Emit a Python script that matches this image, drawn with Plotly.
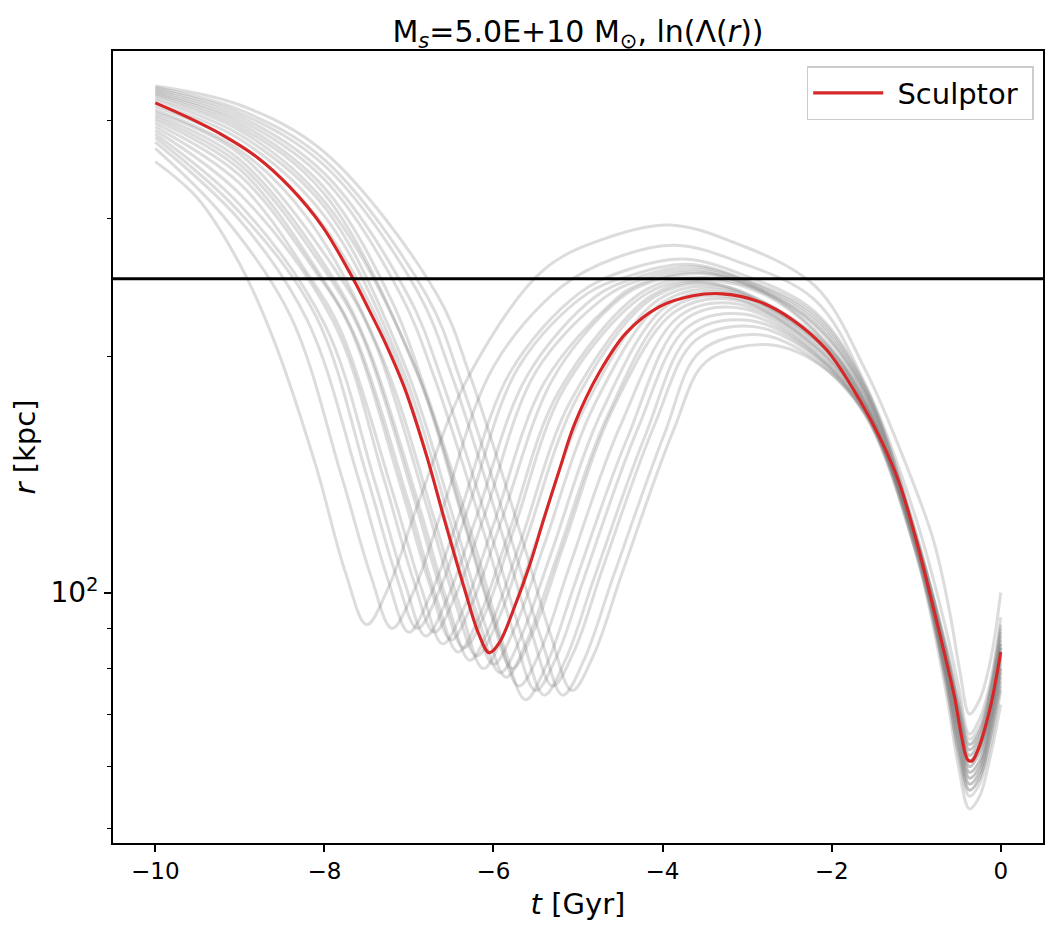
import plotly.graph_objects as go

# Sculptor orbit (red)
red_t = [-10.00, -9.60, -9.21, -8.80, -8.41, -8.02, -7.66, -7.47, -7.27, -7.05,
         -6.78, -6.58, -6.34, -6.17, -6.05, -5.93, -5.75, -5.57, -5.40, -5.22,
         -5.04, -4.75, -4.43, -4.04, -3.64, -3.29, -2.85, -2.46, -2.06, -1.67,
         -1.40, -1.20, -1.00, -0.80, -0.60, -0.54, -0.46, -0.39, -0.34, -0.27,
         -0.13, 0.00]
red_r = [420.6, 402.4, 383.0, 358.9, 328.7, 292.4, 251.0, 229.0, 207.0, 182.0,
         148.0, 123.8, 100.8, 88.3, 83.8, 86.3, 95.9, 108.5, 124.5, 143.3,
         164.0, 190.5, 214.2, 231.2, 238.8, 240.2, 234.6, 222.5, 203.8, 176.0,
         155.1, 137.9, 116.7, 95.9, 78.1, 73.0, 65.3, 61.2, 61.0, 63.0,
         70.9, 84.0]

gray_t = [
    [-10, -9.5, -9.0, -8.6, -8.1, -7.75, -7.5, -7.25, -6.9, -6.3, -5.4, -4.62, -3.92, -3.22, -2.2, -1.6, -1.2, -0.8, -0.6, -0.48, -0.37, -0.25, -0.12, 0],
    [-10, -9.2, -8.4, -7.8, -7.45, -7.2, -6.95, -6.6, -6.0, -5.2, -4.55, -3.85, -3.15, -2.2, -1.6, -1.0, -0.65, -0.5, -0.37, -0.25, -0.12, 0],
    [-10, -9.0, -8.2, -7.6, -7.25, -7.0, -6.75, -6.4, -5.8, -5.0, -4.45, -3.75, -3.05, -2.2, -1.6, -1.0, -0.65, -0.5, -0.37, -0.25, -0.12, 0],
    [-10, -9.0, -8.1, -7.5, -7.15, -6.9, -6.65, -6.3, -5.7, -4.9, -4.4, -3.7, -3.0, -2.2, -1.6, -1.0, -0.65, -0.5, -0.37, -0.25, -0.12, 0],
    [-10, -9.0, -8.0, -7.4, -7.05, -6.8, -6.55, -6.2, -5.6, -4.8, -4.35, -3.65, -2.95, -2.2, -1.6, -1.0, -0.65, -0.5, -0.37, -0.25, -0.12, 0],
    [-10, -9.0, -7.9, -7.3, -6.95, -6.7, -6.45, -6.1, -5.5, -4.7, -4.32, -3.62, -2.92, -2.2, -1.6, -1.0, -0.65, -0.5, -0.37, -0.25, -0.12, 0],
    [-10, -9.0, -8.2, -7.8, -7.2, -6.85, -6.6, -6.35, -6.0, -5.4, -4.6, -4.28, -3.58, -2.88, -2.2, -1.6, -1.0, -0.65, -0.5, -0.37, -0.25, -0.12, 0],
    [-10, -9.0, -8.1, -7.7, -7.1, -6.75, -6.5, -6.25, -5.9, -5.3, -4.6, -4.25, -3.55, -2.85, -2.2, -1.6, -1.0, -0.65, -0.5, -0.37, -0.25, -0.12, 0],
    [-10, -9.0, -8.02, -7.62, -7.02, -6.67, -6.42, -6.17, -5.82, -5.22, -4.2, -3.5, -2.8, -2.2, -1.6, -1.0, -0.65, -0.5, -0.37, -0.25, -0.12, 0],
    [-10, -9.0, -7.95, -7.55, -6.95, -6.6, -6.35, -6.1, -5.75, -5.15, -4.17, -3.47, -2.77, -2.2, -1.6, -1.0, -0.65, -0.5, -0.37, -0.25, -0.12, 0],
    [-10, -9.0, -7.88, -7.48, -6.88, -6.53, -6.28, -6.03, -5.68, -5.08, -4.13, -3.43, -2.2, -1.6, -1.0, -0.65, -0.5, -0.37, -0.25, -0.12, 0],
    [-10, -9.0, -7.8, -7.4, -6.8, -6.45, -6.2, -5.95, -5.6, -5.0, -4.1, -3.4, -2.2, -1.6, -1.0, -0.65, -0.5, -0.37, -0.25, -0.12, 0],
    [-10, -9.0, -8.2, -7.32, -6.72, -6.37, -6.12, -5.87, -5.52, -4.92, -4.05, -3.35, -2.2, -1.6, -1.0, -0.65, -0.5, -0.37, -0.25, -0.12, 0],
    [-10, -9.0, -8.1, -7.2, -6.6, -6.25, -6.0, -5.75, -5.4, -4.8, -4.0, -3.3, -2.2, -1.6, -1.0, -0.65, -0.5, -0.37, -0.25, -0.12, 0],
    [-10, -9.0, -8.0, -7.12, -6.52, -6.17, -5.92, -5.67, -5.32, -4.72, -3.95, -3.25, -2.2, -1.6, -1.0, -0.65, -0.5, -0.37, -0.25, -0.12, 0],
    [-10, -9.0, -8.0, -7.05, -6.45, -6.1, -5.85, -5.6, -5.25, -4.65, -3.9, -3.2, -2.2, -1.6, -1.0, -0.65, -0.5, -0.37, -0.25, -0.12, 0],
    [-10, -9.0, -8.0, -6.98, -6.38, -6.03, -5.78, -5.53, -5.18, -4.58, -3.85, -3.15, -2.2, -1.6, -1.0, -0.65, -0.5, -0.37, -0.25, -0.12, 0],
    [-10, -9.0, -8.0, -6.9, -6.3, -5.95, -5.7, -5.45, -5.1, -4.5, -3.8, -3.1, -2.2, -1.6, -1.0, -0.65, -0.5, -0.37, -0.25, -0.12, 0],
    [-10, -9.0, -8.0, -7.2, -6.82, -6.22, -5.87, -5.62, -5.37, -5.02, -4.42, -3.75, -3.05, -2.2, -1.6, -1.0, -0.65, -0.5, -0.37, -0.25, -0.12, 0],
    [-10, -9.0, -8.0, -7.1, -6.7, -6.1, -5.75, -5.5, -5.25, -4.9, -4.3, -3.7, -3.0, -2.2, -1.6, -1.0, -0.65, -0.5, -0.37, -0.25, -0.12, 0],
    [-10, -9.0, -8.0, -7.0, -6.6, -6.0, -5.65, -5.4, -5.15, -4.8, -4.2, -3.65, -2.95, -2.2, -1.6, -1.0, -0.65, -0.5, -0.37, -0.25, -0.12, 0],
    [-10, -9.0, -8.0, -6.9, -6.5, -5.9, -5.55, -5.3, -5.05, -4.7, -4.1, -3.6, -2.9, -2.2, -1.6, -1.0, -0.65, -0.5, -0.37, -0.25, -0.12, 0],
    [-10, -9.0, -8.0, -6.78, -6.38, -5.78, -5.43, -5.18, -4.93, -4.58, -3.98, -3.55, -2.85, -2.2, -1.6, -1.0, -0.65, -0.5, -0.37, -0.25, -0.12, 0],
    [-10, -9.0, -8.0, -6.67, -6.27, -5.67, -5.32, -5.07, -4.82, -4.47, -3.87, -3.48, -2.78, -2.2, -1.6, -1.0, -0.65, -0.5, -0.37, -0.25, -0.12, 0],
]
gray_r = [
    [354, 318, 262, 210, 145, 106, 91, 101, 129, 188, 258, 284, 294, 281, 246, 192, 153, 117, 94, 79, 70, 73, 82, 100],
    [368, 302, 225, 141, 105, 90, 100, 128, 194, 245, 267, 277, 265, 236, 184, 124, 90, 76, 66, 69, 77, 93],
    [375, 298, 222, 140, 104, 89, 99, 126, 191, 240, 257, 266, 254, 228, 183, 118, 79, 66, 58, 60, 68, 80],
    [380, 305, 225, 141, 105, 90, 100, 128, 194, 240, 253, 262, 250, 226, 182, 119, 84, 71, 63, 65.5, 74, 88],
    [384, 312, 220, 138, 103, 88, 98, 125, 189, 238, 251, 260, 248, 224, 181, 116, 77, 63, 56, 58, 65.5, 77],
    [388, 322, 222, 140, 104, 89, 99, 126, 191, 237, 249, 258, 246, 222, 180, 117, 82, 69, 61, 63.5, 71, 85],
    [392, 332, 255, 215, 135, 101, 86, 95.5, 122, 185, 234, 247, 256, 244, 220, 179, 116, 80, 67, 59, 61, 69, 82],
    [396, 340, 256, 218, 137, 102, 87, 97, 124, 187, 232, 246, 255, 243, 219, 179, 118, 85, 72, 64, 66.5, 75, 89],
    [400, 346, 251, 210, 132, 98, 84, 93, 119, 181, 243, 252, 241, 216, 177, 114, 79, 64.5, 57, 59, 67, 79],
    [403, 351, 253, 212, 133, 99, 85, 94, 121, 183, 241, 250, 239, 215, 176, 116, 83, 70, 62, 64.5, 72.5, 86],
    [406, 356, 250, 205, 129, 96, 82, 91, 116, 176, 239, 248, 213, 175, 115, 81, 68, 60, 62.5, 70, 83],
    [409, 362, 251, 208, 130, 97, 83, 92, 118, 178, 238, 247, 212, 174, 113, 77, 62, 55, 57, 64, 75],
    [412, 366, 300, 200, 126, 94, 80, 89, 114, 172, 236, 245, 211, 174, 116, 84, 71, 63, 65.5, 74, 87],
    [416, 372, 302, 203, 127, 95, 81, 90, 115, 174, 234, 243, 210, 173, 115, 80, 67, 59, 61, 69, 81],
    [420, 378, 302, 198, 124, 92, 79, 88, 112, 170, 232, 241, 209, 173, 116, 82, 69, 61, 63.5, 71, 85],
    [424, 383, 310, 195, 122, 91, 78, 87, 111, 168, 230, 238, 207, 172, 114, 79, 64.5, 57, 59, 67, 78],
    [427, 388, 315, 200, 126, 94, 80, 89, 114, 172, 228, 236, 206, 172, 117, 85, 72, 64, 66.5, 75, 90],
    [430, 392, 322, 190, 119, 89, 76, 84, 108, 163, 225, 233, 205, 171, 115, 81, 68, 60, 62.5, 70, 83],
    [432, 396, 328, 235, 183, 115, 85, 73, 81, 104, 157, 222, 230, 203, 170, 112, 75, 60, 53, 55, 62, 72],
    [434, 400, 336, 240, 188, 118, 88, 75, 83, 106.5, 161, 218, 226, 202, 170, 116, 83, 70, 62, 64.5, 72.5, 86],
    [436, 404, 342, 238, 185, 116, 87, 74, 82, 105, 159, 214, 222, 201, 169, 113, 79, 65.5, 58, 60, 68, 80],
    [438, 408, 350, 242, 190, 119, 89, 76, 84, 108, 163, 210, 218, 200, 169, 117, 86, 73.5, 65, 67.5, 76, 91],
    [440, 412, 356, 238, 185, 116, 87, 74, 82, 105, 159, 203, 213, 198, 168, 112, 78, 63, 56, 58, 65.5, 76],
    [442, 418, 364, 240, 188, 118, 88, 75, 83, 106.5, 161, 197, 207, 197, 169, 115, 82, 69, 61, 63.5, 71, 84],
]

r_line = 251          # horizontal reference radius [kpc]
x_span = [-10.5, 0.5]

xtick_vals = [-10, -8, -6, -4, -2, 0]
xtick_text = ['\u221210', '\u22128', '\u22126', '\u22124', '\u22122', '0']
ytick_vals = [100]
ytick_text = ['10<sup>2</sup>']
yminor_vals = [50, 60, 70, 80, 90, 200, 300, 400]

font = 'DejaVu Sans'

fig = go.Figure()

for tt, rr in zip(gray_t, gray_r):
    fig.add_trace(go.Scatter(
        x=tt, y=rr, mode='lines',
        line=dict(color='rgba(128,128,128,0.28)', width=3, shape='spline'),
        showlegend=False, hoverinfo='skip'))

fig.add_trace(go.Scatter(
    x=red_t, y=red_r, mode='lines', name='\u00a0Sculptor\u00a0',
    line=dict(color='#d62728', width=3.1, shape='spline')))

fig.add_trace(go.Scatter(
    x=x_span, y=[r_line, r_line], mode='lines',
    line=dict(color='black', width=3), showlegend=False, hoverinfo='skip'))

# page body has an 8px margin, so the figure is 16px smaller than the window
fig.update_layout(
    width=1043, height=923,
    margin=dict(l=105, r=8, t=43, b=88),
    paper_bgcolor='white', plot_bgcolor='white',
    font=dict(family=font, size=23, color='black'),
    title=dict(text='M<sub><i>s</i></sub>=5.0E+10 M<sub>\u2299</sub>, ln(\u039b(<i>r</i>))',
               x=0.5, xref='paper', xanchor='center',
               y=1 - 23 / 923, yref='container', yanchor='middle',
               font=dict(family=font, size=30, color='black')),
    legend=dict(x=0.99, y=0.981, xanchor='right', yanchor='top',
                bgcolor='rgba(255,255,255,0.8)', bordercolor='#cccccc', borderwidth=1.5,
                font=dict(family=font, size=29), itemwidth=70),
    showlegend=True,
)

fig.update_xaxes(
    range=x_span, showgrid=False, zeroline=False, automargin=False,
    showline=True, mirror=True, linecolor='black', linewidth=1.7,
    ticks='outside', ticklen=7, tickwidth=1.7, tickcolor='black',
    tickvals=xtick_vals, ticktext=xtick_text,
    tickfont=dict(family=font, size=23),
    title=dict(text='<i>t</i> [Gyr]', font=dict(family=font, size=29), standoff=10))

fig.update_yaxes(
    type='log', range=[1.6808, 2.690], showgrid=False, zeroline=False, automargin=False,
    showline=True, mirror=True, linecolor='black', linewidth=1.7,
    ticks='outside', ticklen=7, tickwidth=1.7, tickcolor='black',
    tickvals=ytick_vals, ticktext=ytick_text,
    tickfont=dict(family=font, size=28),
    minor=dict(tickmode='array', tickvals=yminor_vals, ticks='outside',
               ticklen=4, tickwidth=1.3, tickcolor='black', showgrid=False),
    title=dict(text='<i>r</i> [kpc]', font=dict(family=font, size=29), standoff=12))

fig.write_html('out.html')
